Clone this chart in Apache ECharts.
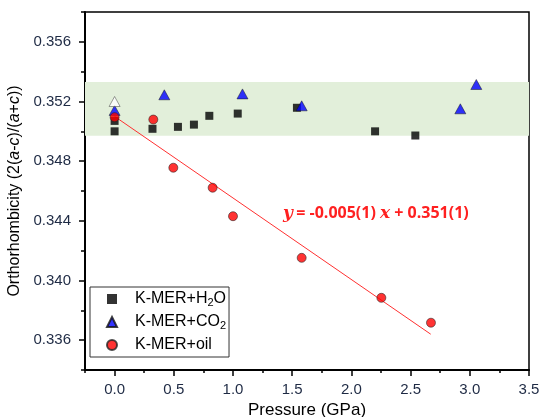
<!DOCTYPE html>
<html>
<head>
<meta charset="utf-8">
<script src="https://cdn.jsdelivr.net/npm/echarts@6/dist/echarts.min.js"></script>
<style>
  html, body { margin: 0; padding: 0; background: #fff; }
  #chart { width: 539px; height: 417px; }
</style>
</head>
<body>
<div id="chart"></div>
<script>
// pressure (GPa) / orthorhombicity
const h2oX = [0, 0, 0.32, 0.535, 0.67, 0.80, 1.04, 1.54, 2.20, 2.54];
const h2oY = [0.3500, 0.3507, 0.35017, 0.3503, 0.35045, 0.35104, 0.35119, 0.35158, 0.3500, 0.34972];
const co2X = [0, 0.42, 1.08, 1.58, 2.92, 3.055];
const co2Y = [0.3514, 0.35245, 0.35251, 0.35171, 0.35151, 0.35314];
const co2OpenX = [0];
const co2OpenY = [0.3520];
const oilX = [0, 0.327, 0.496, 0.828, 1.0, 1.58, 2.253, 2.672];
const oilY = [0.35095, 0.35079, 0.34756, 0.34622, 0.34431, 0.34152, 0.33884, 0.33717];
// linear fit end points
const fitX = [0, 2.67];
const fitY = [0.3510, 0.3364];
// shaded band
const bandY = [0.3497, 0.3533];
// tick labels
const xTicks = [0, 0.5, 1.0, 1.5, 2.0, 2.5, 3.0, 3.5];
const yTicks = [0.336, 0.340, 0.344, 0.348, 0.352, 0.356];

const pair = (xs, ys) => xs.map((x, i) => [x, ys[i]]);
const FONT = 'Liberation Sans';
const LBL = '#1e2a44';
const tickStyle = { color: '#000', width: 1.5 };

const chart = echarts.init(document.getElementById('chart'));
const option = {
    animation: false,
    grid: {
        left: 85, right: 10, top: 12, bottom: 47,
        outerBoundsMode: 'none', containLabel: false,
        show: true, borderColor: '#000', borderWidth: 1.5, backgroundColor: 'transparent'
    },
    legend: {
        orient: 'vertical', left: 90, top: 287,
        data: ['K-MER+H2O', 'K-MER+CO2', 'K-MER+oil'],
        itemWidth: 10, itemHeight: 10, itemGap: 6,
        padding: [4, 3, 4, 16],
        borderColor: '#333', borderWidth: 1, backgroundColor: '#fff',
        formatter: name => {
            if (name === 'K-MER+H2O') return '{a|K-MER+H}{s|2}{a|O}';
            if (name === 'K-MER+CO2') return '{a|K-MER+CO}{s|2}';
            return '{a|K-MER+oil}';
        },
        textStyle: {
            padding: [0, 0, 0, 13],
            rich: {
                a: { fontFamily: FONT, fontSize: 16, color: '#000', lineHeight: 18 },
                s: { fontFamily: FONT, fontSize: 11, color: '#000', lineHeight: 18, verticalAlign: 'bottom', padding: [6, 0, 0, 0] }
            }
        }
    },
    xAxis: [{
        type: 'value', min: -0.25, max: 3.5, interval: 0.25,
        splitLine: { show: false },
        axisLine: { onZero: false, lineStyle: { color: '#000', width: 2 } },
        axisTick: { length: 3, lineStyle: tickStyle },
        axisLabel: {
            customValues: xTicks, margin: 12,
            fontFamily: FONT, fontSize: 15, color: LBL,
            formatter: v => v.toFixed(1)
        },
        name: 'Pressure (GPa)', nameLocation: 'middle', nameGap: 29,
        nameTextStyle: { fontFamily: FONT, fontSize: 17, color: '#000' }
    }, {
        type: 'value', min: -0.25, max: 3.5, position: 'bottom',
        axisLine: { show: false, onZero: false }, splitLine: { show: false },
        axisLabel: { show: false },
        axisTick: { customValues: xTicks, length: 6, lineStyle: tickStyle }
    }],
    yAxis: [{
        type: 'value', min: 0.334, max: 0.358, interval: 0.002,
        splitLine: { show: false },
        axisLine: { onZero: false, lineStyle: { color: '#000', width: 2 } },
        axisTick: { length: 4, lineStyle: tickStyle },
        axisLabel: {
            customValues: yTicks, margin: 14,
            fontFamily: FONT, fontSize: 15, color: LBL,
            formatter: v => v.toFixed(3)
        },
        name: '{n|Orthorhombicity (2(}{i|a}{n|-}{i|c}{n|)/(}{i|a}{n|+}{i|c}{n|))}',
        nameLocation: 'middle', nameGap: 58,
        nameTextStyle: {
            rich: {
                n: { fontFamily: FONT, fontSize: 16, color: '#000' },
                i: { fontFamily: FONT, fontSize: 16, color: '#000', fontStyle: 'italic' }
            }
        }
    }, {
        type: 'value', min: 0.334, max: 0.358, position: 'left',
        axisLine: { show: false, onZero: false }, splitLine: { show: false },
        axisLabel: { show: false },
        axisTick: { customValues: yTicks, length: 6, lineStyle: tickStyle }
    }],
    series: [
        {
            name: 'band', type: 'line', data: [], silent: true,
            markArea: {
                silent: true,
                itemStyle: { color: '#e2efda' },
                data: [[{ yAxis: bandY[0] }, { yAxis: bandY[1] }]]
            }
        },
        {
            name: 'fit', type: 'line', data: pair(fitX, fitY),
            symbol: 'none', lineStyle: { color: '#ff3030', width: 1 }, z: 2
        },
        {
            name: 'K-MER+H2O', type: 'scatter', data: pair(h2oX, h2oY),
            symbol: 'rect', symbolSize: 8,
            itemStyle: { color: '#000' }, z: 3
        },
        {
            name: 'K-MER+CO2', type: 'scatter',
            data: pair(co2X, co2Y).concat(pair(co2OpenX, co2OpenY).map(p => ({
                value: p, itemStyle: { color: '#fff', borderColor: '#333' }
            }))),
            symbol: 'triangle', symbolSize: [11, 10],
            itemStyle: { color: '#0000ff', borderColor: '#111', borderWidth: 0.6 }, z: 4
        },
        {
            name: 'K-MER+oil', type: 'scatter', data: pair(oilX, oilY),
            symbol: 'circle', symbolSize: 9,
            itemStyle: { color: '#ff0000', borderColor: '#222', borderWidth: 0.7 }, z: 5
        }
    ],
    graphic: [{
        type: 'text', left: 283, top: 205, z: 10,
        style: {
            text: '{v|y} {t|= -0.005(1) }{v|x}{t| + 0.351(1)}',
            rich: {
                v: { fontFamily: 'DejaVu Serif', fontStyle: 'italic', fontWeight: 'bold', fontSize: 17, fill: '#ff2020' },
                t: { fontFamily: 'Open Sans', fontWeight: 'bold', fontSize: 16, fill: '#ff2020' }
            }
        }
    }]
};
chart.setOption(option);
</script>
</body>
</html>
